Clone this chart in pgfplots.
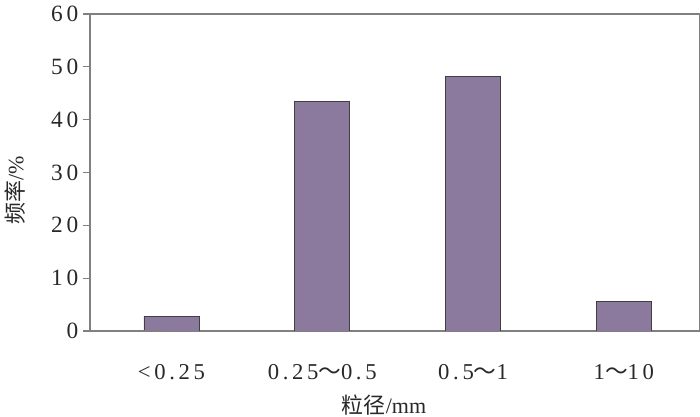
\documentclass[border=0pt]{standalone}
\usepackage{fontspec}
\setmainfont{Liberation Serif}
\newfontfamily\cjk{Noto Sans CJK SC}
\newfontfamily\numfont[LetterSpace=16]{Liberation Serif}
\usepackage{pgfplots}
\pgfplotsset{compat=1.18}
\definecolor{barfill}{RGB}{139,122,158}
\definecolor{axgray}{RGB}{128,128,128}
\definecolor{txt}{RGB}{40,40,40}
\begin{document}
\begin{tikzpicture}[x=0.75pt,y=0.75pt]
\begin{axis}[
  name=ax,
  at={(0,0)}, anchor=south west,
  scale only axis,
  width=457.5pt, height=237.75pt,
  xmin=-0.54, xmax=3.505,
  ymin=0, ymax=60,
  ytick={0,10,...,60},
  xtick=data,
  xticklabels={{<0.25},{0.25{\cjk ～}0.5},{0.5{\cjk ～}1},{1{\cjk ～}10}},
  x tick label style={font=\fontsize{17}{17}\selectfont\numfont, text=txt, anchor=center, yshift=-25.5pt},
  y tick label style={font=\fontsize{17.5}{17.5}\selectfont\numfont, text=txt},
  /pgf/number format/assume math mode=true,
  xtick style={draw=none},
  ytick style={draw=axgray, line width=0.8pt},
  tick align=outside,
  major tick length=5.25pt,
  ytick pos=left,
  axis line style={draw=axgray, line width=0.8pt},
  xlabel={{\cjk 粒径}/mm},
  ylabel={{\cjk 频率}/\%},
  xlabel style={font=\fontsize{16.5}{16.5}\selectfont, text=txt,
    at={(axis description cs:0.482,0)}, anchor=center, yshift=-55.5pt},
  ylabel style={font=\fontsize{16.5}{16.5}\selectfont, text=txt,
    at={(axis description cs:0,0.445)}, anchor=center, yshift=56.25pt},
]
\addplot[ybar, bar width=41.25pt, bar shift=0pt, fill=barfill, draw=black!75, line width=0.6pt]
  coordinates {(0,2.8) (1,43.5) (2,48.2) (3,5.6)};
\draw[axgray, line width=0.8pt] (axis cs:-0.54,0) -- ++(-5.25pt,0);
\end{axis}
\pgfresetboundingbox
\path[use as bounding box] (-67.5pt,-64.5pt) rectangle (457.5pt,248.25pt);
\end{tikzpicture}
\end{document}
